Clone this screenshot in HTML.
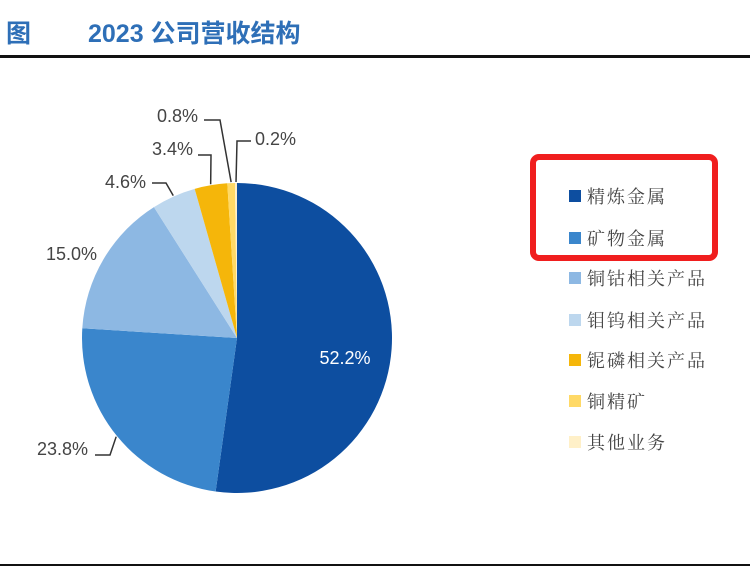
<!DOCTYPE html>
<html><head><meta charset="utf-8"><style>
body{margin:0;background:#fff;width:750px;height:571px;overflow:hidden;font-family:"Liberation Sans","Noto Sans CJK SC",sans-serif;}
</style></head><body>
<svg width="750" height="571" xmlns="http://www.w3.org/2000/svg">
<text x="6" y="42" font-size="25" font-weight="bold" fill="#2e6fb7" font-family="Liberation Sans,Noto Sans CJK SC,sans-serif">图</text>
<text x="88" y="42" font-size="25" font-weight="bold" fill="#2e6fb7" font-family="Liberation Sans,Noto Sans CJK SC,sans-serif">2023 公司营收结构</text>
<rect x="0" y="55" width="750" height="3" fill="#111"/>
<rect x="0" y="564" width="750" height="2" fill="#111"/>
<g id="pie"></g>
<g id="labels"></g>
<rect x="533" y="157" width="182" height="101" rx="6" fill="none" stroke="#f01e1e" stroke-width="6"/>
<g id="legend"></g>
</svg>
<script>
const categories=["精炼金属","矿物金属","铜钴相关产品","钼钨相关产品","铌磷相关产品","铜精矿","其他业务"];
const values=[52.2,23.8,15.0,4.6,3.4,0.8,0.2];
const labels=["52.2%","23.8%","15.0%","4.6%","3.4%","0.8%","0.2%"];
const colors=["#0d4ea0","#3a86cc","#8db8e3","#bdd7ee","#f5b60a","#ffd966","#fff0c8"];
const cx=237,cy=338,r=155;
const NS="http://www.w3.org/2000/svg";
const pie=document.getElementById('pie');
const total=values.reduce((a,b)=>a+b,0);
let acc=0;
const pt=(a,rr)=>[cx+rr*Math.sin(a),cy-rr*Math.cos(a)];
const mids=[];
values.forEach((v,i)=>{
  const a0=acc/total*2*Math.PI; acc+=v; const a1=acc/total*2*Math.PI;
  mids.push((a0+a1)/2);
  const p0=pt(a0,r),p1=pt(a1,r);
  const path=document.createElementNS(NS,'path');
  path.setAttribute('d',`M${cx},${cy}L${p0[0]},${p0[1]}A${r},${r} 0 ${a1-a0>Math.PI?1:0} 1 ${p1[0]},${p1[1]}Z`);
  path.setAttribute('fill',colors[i]);
  
  
  pie.appendChild(path);
});
// label layout: [textX,textY,anchor, leader elbow points or null]
const layout=[
  [345,364,'middle',null,'#fff'],
  [88,455,'end',[[95,455],[110,455]],'#444'],
  [97,260,'end',null,'#444'],
  [146,188,'end',[[152,183],[166,183]],'#444'],
  [193,155,'end',[[198,155],[211,155]],'#444'],
  [198,122,'end',[[204,120],[220,120]],'#444'],
  [255,145,'start',[[251,141],[237,141]],'#444']
];
const lg=document.getElementById('labels');
layout.forEach((L,i)=>{
  if(L[3]){
    const e=pt(mids[i],r+1);
    const pl=document.createElementNS(NS,'polyline');
    pl.setAttribute('points',L[3].map(p=>p.join(',')).join(' ')+' '+e.join(','));
    pl.setAttribute('fill','none');pl.setAttribute('stroke','#333');pl.setAttribute('stroke-width','1.5');
    
    
    lg.appendChild(pl);
  }
  const t=document.createElementNS(NS,'text');
  t.setAttribute('x',L[0]);t.setAttribute('y',L[1]);t.setAttribute('text-anchor',L[2]);
  t.setAttribute('font-size','18');t.setAttribute('fill',L[4]);
  t.textContent=labels[i];
  
  
  lg.appendChild(t);
});
const leg=document.getElementById('legend');
const rowsY=[196,238,278,320,360,401,442];
categories.forEach((c,i)=>{
  const s=document.createElementNS(NS,'rect');
  s.setAttribute('x',569);s.setAttribute('y',rowsY[i]-6);s.setAttribute('width',12);s.setAttribute('height',12);
  s.setAttribute('fill',colors[i]);
  
  
  leg.appendChild(s);
  const t=document.createElementNS(NS,'text');
  t.setAttribute('x',587);t.setAttribute('y',rowsY[i]+7);t.setAttribute('font-size','18');
  t.setAttribute('fill','#444');t.setAttribute('letter-spacing','2');
  t.setAttribute('font-family','Noto Serif CJK SC,Noto Sans CJK SC,serif');
  t.textContent=c;
  
  
  leg.appendChild(t);
});
</script>
</body></html>
